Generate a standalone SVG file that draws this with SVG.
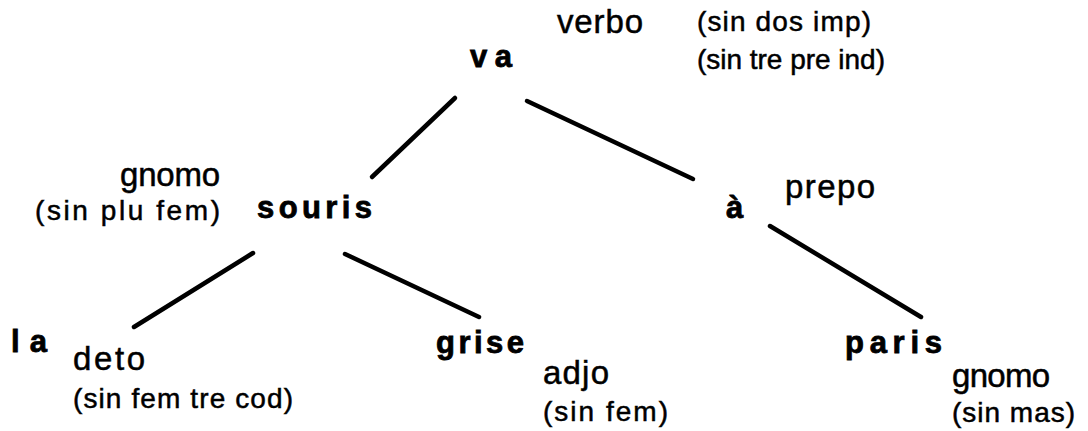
<svg xmlns="http://www.w3.org/2000/svg" width="1088" height="431" viewBox="0 0 1088 431">
<style>
.w{font-family:"Liberation Sans",Arial,sans-serif;font-weight:bold;font-size:31px;fill:#000;stroke:#000;stroke-width:0.8}
.c{font-family:"Liberation Sans",Arial,sans-serif;font-size:33px;fill:#000;stroke:#000;stroke-width:0.5}
.l{font-family:"Liberation Sans",Arial,sans-serif;font-size:28px;fill:#000;stroke:#000;stroke-width:0.5}
.e{stroke:#000;stroke-width:4.5;stroke-linecap:round;fill:none}
</style>
<rect width="1088" height="431" fill="#fff"/>
<g id="connectors">
<line class="e" x1="455" y1="98" x2="372" y2="177"/>
<line class="e" x1="527" y1="101" x2="693" y2="179"/>
<line class="e" x1="253" y1="253" x2="134" y2="327"/>
<line class="e" x1="345" y1="254" x2="479" y2="317"/>
<line class="e" x1="770" y1="226" x2="921" y2="317"/>
</g>
<g id="va">
<text class="w" x="470" y="67" textLength="42" lengthAdjust="spacing">va</text>
<text class="c" x="557" y="33" textLength="86" lengthAdjust="spacing">verbo</text>
<text class="l" x="697" y="31" textLength="174" lengthAdjust="spacing">(sin dos imp)</text>
<text class="l" x="697" y="69" textLength="188" lengthAdjust="spacing">(sin tre pre ind)</text>
</g>
<g id="souris">
<text class="w" x="257" y="218" textLength="115" lengthAdjust="spacing">souris</text>
<text class="c" x="120" y="186" textLength="100" lengthAdjust="spacing">gnomo</text>
<text class="l" x="35" y="220" textLength="185" lengthAdjust="spacing">(sin plu fem)</text>
</g>
<g id="a">
<text class="w" x="726" y="218" textLength="17" lengthAdjust="spacing">à</text>
<text class="c" x="785" y="198" textLength="90" lengthAdjust="spacing">prepo</text>
</g>
<g id="la">
<text class="w" x="11" y="352" textLength="36" lengthAdjust="spacing">la</text>
<text class="c" x="73" y="370" textLength="72" lengthAdjust="spacing">deto</text>
<text class="l" x="73" y="408" textLength="220" lengthAdjust="spacing">(sin fem tre cod)</text>
</g>
<g id="grise">
<text class="w" x="436" y="353" textLength="88" lengthAdjust="spacing">grise</text>
<text class="c" x="543" y="384" textLength="66" lengthAdjust="spacing">adjo</text>
<text class="l" x="543" y="421" textLength="125" lengthAdjust="spacing">(sin fem)</text>
</g>
<g id="paris">
<text class="w" x="845" y="353" textLength="97" lengthAdjust="spacing">paris</text>
<text class="c" x="952" y="387" textLength="98" lengthAdjust="spacing">gnomo</text>
<text class="l" x="952" y="422" textLength="123" lengthAdjust="spacing">(sin mas)</text>
</g>
</svg>
